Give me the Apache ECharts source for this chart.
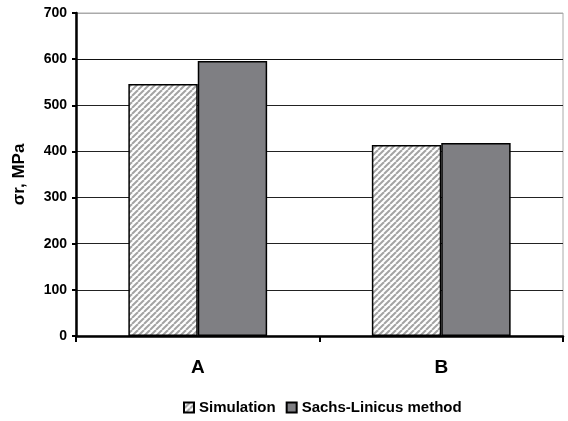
<!DOCTYPE html>
<html><head><meta charset="utf-8">
<script src="https://cdn.jsdelivr.net/npm/echarts@6/dist/echarts.min.js"></script>
<style>html,body{margin:0;padding:0;background:#fff}#c{width:568px;height:421px}</style>
</head><body><div id="c"></div>
<script>
const categories = ['A', 'B'];
const simulation = [546, 414];
const sachsLinicus = [596, 418];
const seriesNames = ['Simulation', 'Sachs-Linicus method'];

function hatch() {
  const s = 6;
  const c = document.createElement('canvas');
  c.width = s; c.height = s;
  const g = c.getContext('2d');
  g.fillStyle = '#fff'; g.fillRect(0, 0, s, s);
  g.strokeStyle = '#a3a3a3'; g.lineWidth = 2;
  for (let k = -s; k <= 2 * s; k += s) {
    g.beginPath(); g.moveTo(k, s); g.lineTo(k + s, 0); g.stroke();
  }
  return c;
}
const pat = { image: hatch(), repeat: 'repeat' };
const font = '"Liberation Sans", Arial, sans-serif';
const chart = echarts.init(document.getElementById('c'));
chart.setOption({
  animation: false,
  textStyle: { fontFamily: font },
  grid: { left: 76, right: 5, top: 13, bottom: 85, show: true, borderColor: '#aaa', borderWidth: 1,
          containLabel: false, outerBoundsMode: 'none' },
  legend: {
    bottom: 1, left: 178, itemWidth: 10, itemHeight: 10, itemGap: 10,
    icon: 'rect',
    textStyle: { fontFamily: font, fontWeight: 'bold', fontSize: 15, color: '#000' },
    data: seriesNames
  },
  xAxis: {
    type: 'category', data: categories,
    axisLine: { lineStyle: { color: '#000', width: 2.5 } },
    axisTick: { show: true, length: 6, lineStyle: { color: '#000', width: 2 } },
    axisLabel: { color: '#000', fontWeight: 'bold', fontSize: 19, margin: 22 }
  },
  yAxis: {
    type: 'value', min: 0, max: 700, interval: 100,
    name: 'σr, MPa', nameLocation: 'middle', nameGap: 48, nameRotate: 90,
    nameTextStyle: { color: '#000', fontWeight: 'bold', fontSize: 17, fontFamily: font },
    axisLine: { show: true, lineStyle: { color: '#000', width: 2.5 } },
    axisTick: { show: true, length: 4, lineStyle: { color: '#000', width: 2 } },
    axisLabel: { color: '#000', fontWeight: 'bold', fontSize: 14, margin: 9 },
    splitLine: { lineStyle: { color: ['#000','#222','#222','#222','#222','#222','#111','#aaa'], width: 1 } }
  },
  series: [
    { name: seriesNames[0], type: 'bar', data: simulation, barWidth: '28.5%', barGap: '0%',
      itemStyle: { color: pat, borderColor: '#000', borderWidth: 1.5 } },
    { name: seriesNames[1], type: 'bar', data: sachsLinicus, barWidth: '28.5%',
      itemStyle: { color: '#7f7f83', borderColor: '#000', borderWidth: 1.5 } }
  ]
});
</script></body></html>
